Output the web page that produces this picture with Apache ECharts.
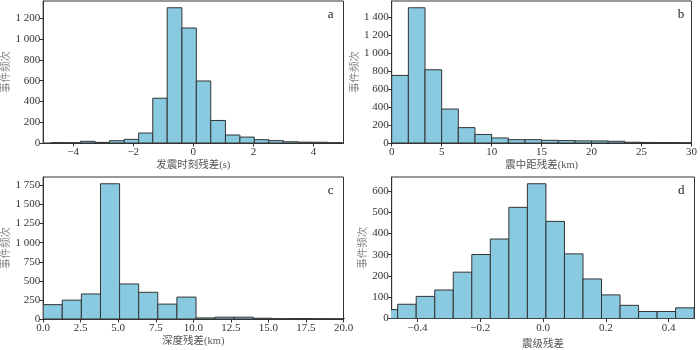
<!DOCTYPE html>
<html>
<head>
<meta charset="utf-8">
<script src="https://cdn.jsdelivr.net/npm/echarts@6/dist/echarts.min.js"></script>
<style>html,body{margin:0;padding:0;background:#fff}#c{width:700px;height:350px}</style>
</head>
<body>
<div id="c"></div>
<script>
// Panel a: 发震时刻残差(s)
const aEdges = [-4.73, -4.245, -3.76, -3.27, -2.79, -2.30, -1.82, -1.35, -0.87, -0.38, 0.10, 0.58, 1.07, 1.55, 2.03, 2.51, 3.00, 3.49, 3.98, 4.46, 4.95];
const aCounts = [3, 2, 16, 6, 22, 35, 96, 431, 1302, 1107, 597, 217, 77, 57, 32, 23, 12, 8, 7, 2];
const aXTicks = [-4, -2, 0, 2, 4];
const aYTicks = [0, 200, 400, 600, 800, 1000, 1200];
// Panel b: 震中距残差(km)
const bEdges = [0, 1.667, 3.333, 5, 6.667, 8.333, 10, 11.667, 13.333, 15, 16.667, 18.333, 20, 21.667, 23.333, 25, 26.667, 28.333, 30];
const bCounts = [752, 1505, 815, 378, 171, 95, 56, 37, 37, 30, 27, 24, 23, 19, 8, 6, 4, 3];
const bXTicks = [0, 5, 10, 15, 20, 25, 30];
const bYTicks = [0, 200, 400, 600, 800, 1000, 1200, 1400];
// Panel c: 深度残差(km)
const cEdges = [0, 1.272, 2.545, 3.817, 5.09, 6.362, 7.634, 8.906, 10.18, 11.45, 12.72, 13.99, 15.27, 16.54, 17.81, 19.08, 20.36];
const cCounts = [188, 247, 328, 1772, 459, 350, 195, 287, 14, 24, 24, 10, 3, 5, 3, 1];
const cXTicks = [0, 2.5, 5, 7.5, 10, 12.5, 15, 17.5, 20];
const cYTicks = [0, 250, 500, 750, 1000, 1250, 1500, 1750];
// Panel d: 震级残差
const dEdges = [-0.522, -0.463, -0.404, -0.345, -0.286, -0.227, -0.168, -0.109, -0.050, 0.009, 0.068, 0.127, 0.186, 0.245, 0.304, 0.363, 0.422, 0.481];
const dCounts = [42, 67, 104, 134, 218, 301, 374, 523, 634, 457, 304, 186, 111, 62, 33, 33, 50];
const dXTicks = [-0.4, -0.2, 0, 0.2, 0.4];
const dYTicks = [0, 100, 200, 300, 400, 500, 600];

const xNames = ['发震时刻残差(s)', '震中距残差(km)', '深度残差(km)', '震级残差'];
const yName = '事件频次';
const letters = ['a', 'b', 'c', 'd'];
const xRanges = [[-5, 5], [0, 30], [0, 20], [-0.482, 0.482]];

const serif = '"Liberation Serif", "Times New Roman", serif';
const cjk = '"Liberation Serif", "Noto Sans CJK SC", serif';
const FILL = '#89CAE0', EDGE = '#333333';

const grids = [
  {left: 39.5, top: 1, width: 304, height: 142},
  {left: 391.7, top: 1, width: 302.6, height: 142},
  {left: 39.5, top: 177, width: 304, height: 142},
  {left: 391.7, top: 177, width: 302.8, height: 142}
];

function minus(s) { return String(s).replace('-', '\u2212'); }
function thousands(v) { return v >= 1000 ? String(v).replace(/\B(?=(\d{3})+$)/g, ' ') : String(v); }
const xFmt = [
  v => minus(v),
  v => String(v),
  v => v.toFixed(1),
  v => minus((Math.abs(v) < 1e-9 ? 0 : v).toFixed(1))
];
const xTicks = [aXTicks, bXTicks, cXTicks, dXTicks];
const yTicks = [aYTicks, bYTicks, cYTicks, dYTicks];
const edges = [aEdges, bEdges, cEdges, dEdges];
const counts = [aCounts, bCounts, cCounts, dCounts];
const yNameGap = [27, 27, 27, 22];
const xNameGap = [17, 17, 17, 20];

function renderItem(params, api) {
  const p0 = api.coord([api.value(0), api.value(2)]);
  const p1 = api.coord([api.value(1), 0]);
  return {
    type: 'rect',
    shape: {x: p0[0], y: p0[1], width: p1[0] - p0[0], height: p1[1] - p0[1]},
    style: {fill: FILL, stroke: EDGE, lineWidth: 1}
  };
}

const xAxis = [], yAxis = [], series = [], title = [];
for (let i = 0; i < 4; i++) {
  xAxis.push({
    type: 'value', gridIndex: i, min: xRanges[i][0], max: xRanges[i][1],
    name: xNames[i], nameLocation: 'middle', nameGap: xNameGap[i],
    nameTextStyle: {fontFamily: cjk, fontSize: 10.5, color: '#555'},
    axisLine: {show: true, onZero: false, lineStyle: {color: EDGE, width: 1}},
    axisTick: {show: true, length: 3.5, customValues: xTicks[i], lineStyle: {color: EDGE}},
    axisLabel: {customValues: xTicks[i], formatter: xFmt[i], fontFamily: serif, fontSize: 11, color: '#333', margin: 4},
    splitLine: {show: false}
  });
  const ymax = Math.max(...counts[i]) * 1.05;
  yAxis.push({
    type: 'value', gridIndex: i, min: 0, max: ymax,
    name: yName, nameLocation: 'middle', nameGap: yNameGap[i],
    nameTextStyle: {fontFamily: cjk, fontSize: 10.5, color: '#888'},
    axisLine: {show: true, onZero: false, lineStyle: {color: EDGE, width: 1}},
    axisTick: {show: true, length: 3.5, customValues: yTicks[i], lineStyle: {color: EDGE}},
    axisLabel: {customValues: yTicks[i], formatter: thousands, fontFamily: serif, fontSize: 11, color: '#333', margin: 3},
    splitLine: {show: false}
  });
  series.push({
    type: 'custom', xAxisIndex: i, yAxisIndex: i, clip: true,
    encode: {x: [0, 1], y: 2},
    data: counts[i].map((c, k) => [edges[i][k], edges[i][k + 1], c]),
    renderItem: renderItem
  });
  const g = grids[i];
  title.push({
    text: letters[i], right: 700 - (g.left + g.width) + 5, top: g.top + 2,
    textStyle: {fontFamily: serif, fontSize: 13, fontWeight: 'normal', color: '#222'}
  });
}

const chart = echarts.init(document.getElementById('c'), null, {renderer: 'canvas'});
chart.setOption({
  animation: false,
  backgroundColor: '#fff',
  title: title,
  grid: grids.map(g => Object.assign({show: true, borderColor: EDGE, borderWidth: 1, backgroundColor: 'transparent'}, g)),
  xAxis: xAxis,
  yAxis: yAxis,
  series: series
});
</script>
</body>
</html>
